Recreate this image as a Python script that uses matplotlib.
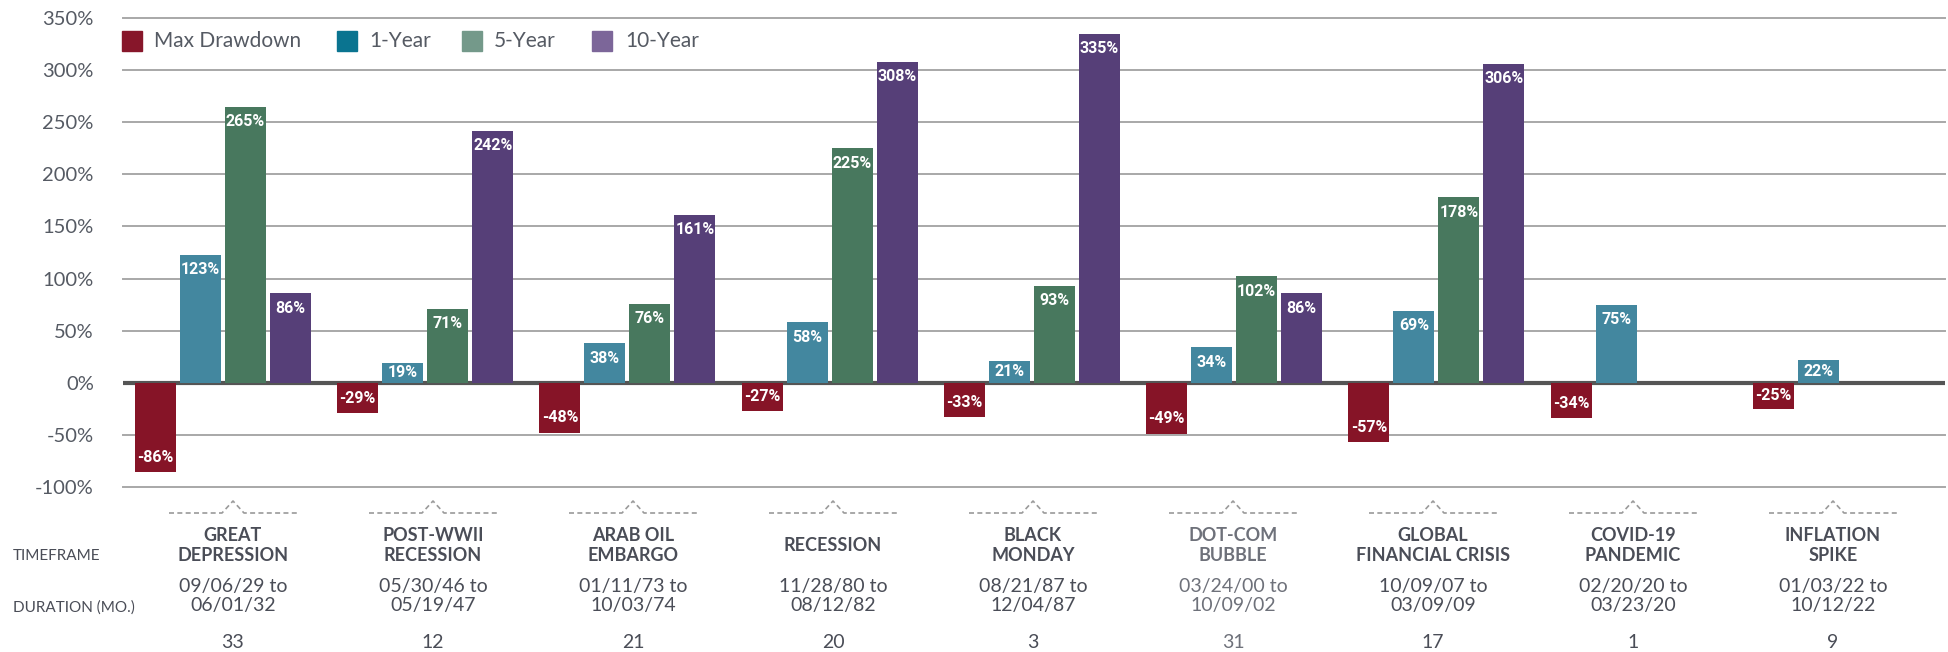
import numpy as np
import matplotlib
matplotlib.use('Agg')
import matplotlib.pyplot as plt
from matplotlib.patches import Rectangle
from matplotlib.lines import Line2D

# dados
events = ['GREAT\nDEPRESSION', 'POST-WWII\nRECESSION', 'ARAB OIL\nEMBARGO', 'RECESSION',
          'BLACK\nMONDAY', 'DOT-COM\nBUBBLE', 'GLOBAL\nFINANCIAL CRISIS', 'COVID-19\nPANDEMIC',
          'INFLATION\nSPIKE']
timeframes = ['09/06/29 to\n06/01/32', '05/30/46 to\n05/19/47', '01/11/73 to\n10/03/74',
              '11/28/80 to\n08/12/82', '08/21/87 to\n12/04/87', '03/24/00 to\n10/09/02',
              '10/09/07 to\n03/09/09', '02/20/20 to\n03/23/20', '01/03/22 to\n10/12/22']
durations = [33, 12, 21, 20, 3, 31, 17, 1, 9]

max_drawdown = [-86, -29, -48, -27, -33, -49, -57, -34, -25]
one_year = [123, 19, 38, 58, 21, 34, 69, 75, 22]
five_year = [265, 71, 76, 225, 93, 102, 178, None, None]
ten_year = [86, 242, 161, 308, 335, 86, 306, None, None]

series_names = ['Max Drawdown', '1-Year', '5-Year', '10-Year']
bar_colors = ['#861427', '#43879f', '#48785e', '#563f78']
legend_colors = ['#87162a', '#0a7490', '#74998a', '#7c6699']

W, H = 1949, 652
TXT = '#4a4d57'

fig = plt.figure(figsize=(W / 100, H / 100), dpi=100)
fig.patch.set_facecolor('white')


def fx(px):
    return px / W


def fy(py):
    return 1 - py / H


# eixo principal (pixels medidos na referência)
ax = fig.add_axes([fx(123), fy(487), fx(1945 - 123), (487 - 18) / H])
pitch = 202.25
x0 = (123 - 223) / pitch
x1 = (1945 - 223) / pitch
ax.set_xlim(x0, x1)
ax.set_ylim(-100, 350)
for s in ax.spines.values():
    s.set_visible(False)
ax.set_xticks([])
ax.set_yticks(np.arange(-100, 351, 50))
ax.set_yticklabels([f'{v}%' for v in range(-100, 351, 50)], fontsize=14.5,
                   color='#555a63', family='Lato')
ax.tick_params(axis='y', length=0, pad=21)

for v in range(-100, 351, 50):
    if v == 0:
        continue
    ax.axhline(v, color='#a8a8a8', lw=1.4, zorder=0, clip_on=False)
ax.axhline(0, color='#555555', lw=3, zorder=1)

bw = 41 / pitch
step = 45 / pitch
offsets = np.array([-1.5, -0.5, 0.5, 1.5]) * step
xs = np.arange(len(events))
all_series = [max_drawdown, one_year, five_year, ten_year]

for k, (vals, col) in enumerate(zip(all_series, bar_colors)):
    for i, v in enumerate(vals):
        if v is None:
            continue
        xb = xs[i] + offsets[k]
        ax.bar(xb, v, width=bw, color=col, zorder=2)
        # rótulo dentro da barra, perto da ponta
        inset = 15 * 450 / 469
        if abs(v) < 2 * inset:
            ty = v / 2
        else:
            ty = v - inset if v > 0 else v + inset
        ax.text(xb, ty, f'{v}%', ha='center', va='center', color='white',
                fontsize=11.5, fontweight='bold', family='Roboto', zorder=3)

# legenda manual
leg_sq = [122, 337, 462, 592]
leg_tx = [154, 369, 494, 625]
for name, col, sx, tx in zip(series_names, legend_colors, leg_sq, leg_tx):
    fig.patches.append(Rectangle((fx(sx), fy(51)), fx(20), 20 / H, color=col,
                                 transform=fig.transFigure, figure=fig))
    fig.text(fx(tx), fy(41), name, fontsize=15, color='#555a63', family='Lato',
             ha='left', va='center')

# rótulos inferiores
fig.text(fx(13), fy(556), 'TIMEFRAME', fontsize=11, color=TXT, family='Lato',
         ha='left', va='center')
fig.text(fx(13), fy(608), 'DURATION (MO.)', fontsize=11, color=TXT, family='Lato',
         ha='left', va='center')

for i in range(len(events)):
    c = 233 + 200 * i
    col = '#6e717a' if i == 5 else TXT
    # colchete tracejado
    fig.add_artist(Line2D([fx(c - 64), fx(c - 11), fx(c), fx(c + 11), fx(c + 64)],
                          [fy(513), fy(513), fy(501), fy(513), fy(513)],
                          color='#9a9a9a', lw=1.2, ls=(0, (3, 2))))
    fig.text(fx(c), fy(545.5), events[i], fontsize=13, fontweight='bold', color=col,
             family='Lato', ha='center', va='center', multialignment='center',
             linespacing=1.15)
    fig.text(fx(c), fy(596), timeframes[i], fontsize=14, color=col, family='Lato',
             ha='center', va='center', multialignment='center', linespacing=1.2)
    fig.text(fx(c), fy(643), str(durations[i]), fontsize=14, color=col, family='Lato',
             ha='center', va='center')

fig.savefig('out.png', dpi=100, facecolor='white')
